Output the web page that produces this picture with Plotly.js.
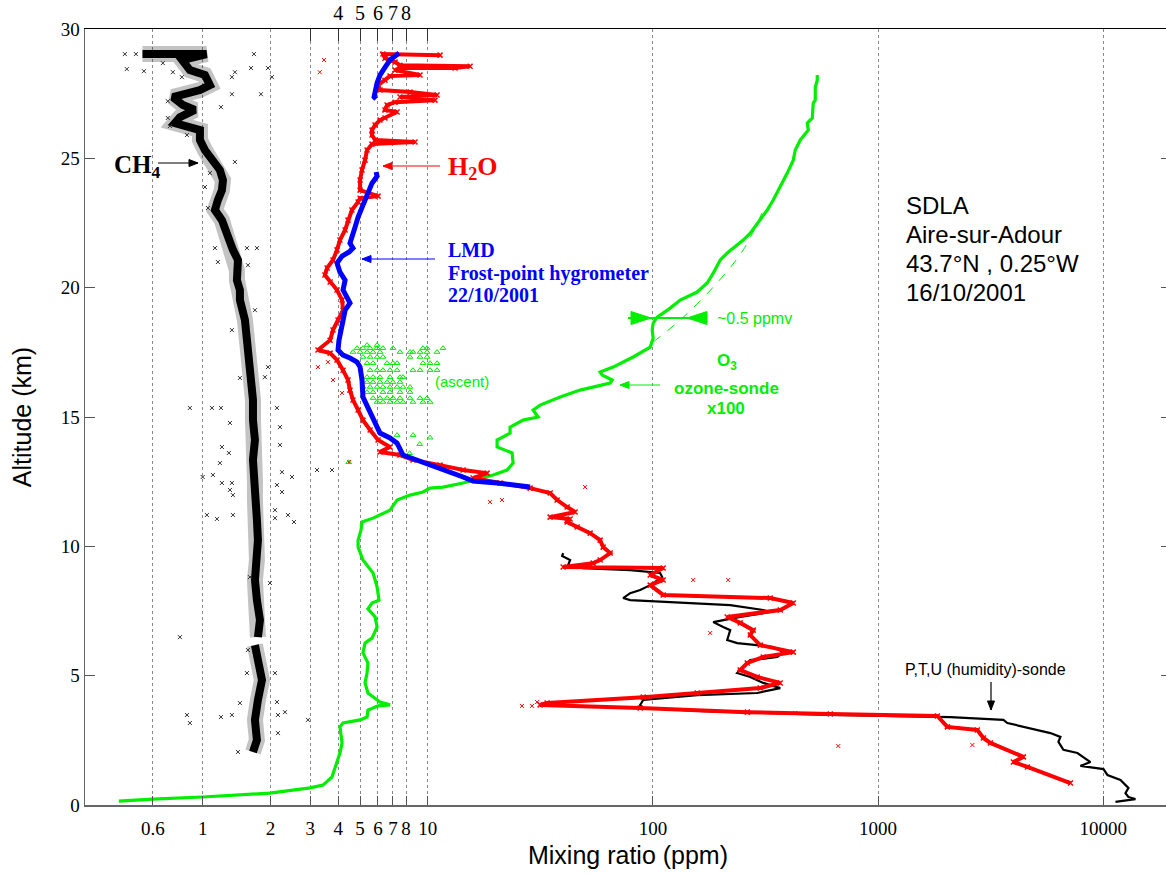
<!DOCTYPE html>
<html>
<head>
<meta charset="utf-8">
<script src="https://cdn.plot.ly/plotly-3.0.1.min.js"></script>
<style>
html,body{margin:0;padding:0;overflow:hidden;background:#fff;}
#chart{width:1171px;height:874px;}
</style>
</head>
<body>
<div id="chart"></div>
<script>
// ---------------- DATA (mixing ratio in ppm, altitude in km) ----------------
// CH4 profile (centre of the dense band)
const ch4_ppm = [0.54,1.04,0.81,0.877,1.023,1.076,0.972,0.737,0.817,0.923,0.792,0.752,0.972,0.972,1.023,1.099,1.192,1.23,1.217,1.168,1.133,1.217,1.255,1.321,1.362,1.434,1.419,1.419,1.463,1.463,1.54,1.572,1.621,1.654,1.672,1.672,1.706,1.672,1.706,1.706,1.741,1.759,1.741,1.706,1.741,1.796,1.759,null,1.706,1.759,1.833,1.759,1.706,1.741,1.672];
const ch4_alt = [29.03,29.03,28.80,28.41,28.22,27.83,27.64,27.37,27.06,26.87,26.59,26.36,26.09,25.71,25.32,24.93,24.55,24.16,23.77,23.39,23.00,22.61,22.23,21.84,21.46,21.07,20.68,20.29,19.91,19.52,18.75,17.97,17.20,16.43,15.66,14.88,14.11,13.34,12.56,11.79,11.02,10.24,9.47,8.70,7.92,7.15,6.49,null,6.18,5.60,4.83,4.06,3.29,2.51,2.05];
// CH4 scattered individual samples
const ch4s_ppm = [0.451,0.505,0.460,0.548,0.665,0.737,0.808,1.348,1.390,1.638,1.689,1.949,2.03,1.814,1.348,1.205,0.700,0.700,0.715,0.851,1.076,1.023,1.055,1.39,1.572,1.741,1.168,1.133,1.588,
  0.877,1.099,1.205,1.321,1.217,1.307,1.192,1.11,1.0,1.217,1.348,1.321,1.362,1.044,1.157,1.362,2.137,2.203,2.203,2.249,2.491,2.137,2.249,2.094,2.391,2.543,2.094,1.949,1.89,1.463,1.706,1.348,1.989,1.621,0.792,0.851,0.877,1.205,1.348,2.159,2.319,1.463,2.137,2.159,1.434,1.588,1.572,2.094,2.935,3.219,3.752];
const ch4s_alt = [29.03,29.03,28.45,28.37,28.68,28.33,28.14,28.14,28.33,28.49,29.03,28.49,28.14,27.48,27.48,26.98,27.21,26.56,26.25,25.9,24.43,23.89,23.08,24.86,21.53,21.53,20.99,21.53,20.87,
  15.35,15.35,15.35,14.77,13.84,13.61,13.22,12.76,12.68,12.45,12.45,12.18,11.98,11.21,11.06,11.21,15.35,14.61,13.92,12.87,12.68,12.37,12.1,11.4,11.21,10.94,11.09,16.93,16.54,16.51,19.13,18.36,8.58,8.81,6.49,3.48,3.17,3.4,3.48,3.48,3.59,3.94,3.98,2.78,2.05,5.99,5.1,5.1,3.29,12.95,12.95];

// H2O (SDLA)
const h2o_ppm = [11.33,6.32,6.45,7.15,7.52,15.4,13.21,7.52,7.15,9.23,6.79,6.45,6.01,6.13,8.34,10.99,7.52,10.76,7.15,6.59,6.45,7.30,6.45,6.13,5.83,5.65,5.65,5.83,8.77,5.65,5.37,5.26,5.10,5.00,5.00,6.01,5.00,4.90,4.60,4.42,4.29,4.07,3.95,3.79,3.57,3.49,3.68,3.95,4.16,4.20,3.99,3.79,3.68,3.25,3.68,3.95,4.20,4.42,4.51,4.65,4.90,5.15,5.54,6.01,6.79,6.13,7.52,8.59,11.33,14.34,18.33,15.88,20.94,28.46,34.93,37.53,41.57,45.10,34.93,42.85,41.57,46.03,52.59,58.25,60.07,64.54,58.25,54.23,39.91,111,97.19,111,97.19,111,331.8,419.9,367.6,213.7,244.1,278.8,270.4,299.5,419.9,308.9,262.3,244.1,290.5,367.6,299.5,157.2,90.47,33.87,31.53,87.72,262.3,613.2,1833,2030,2760,2935,3153,4419,3990,4604,7149];
const h2o_alt = [28.99,29.03,28.87,28.72,28.60,28.56,28.49,28.49,28.41,28.22,28.18,28.02,27.83,27.64,27.56,27.45,27.37,27.25,27.17,27.06,26.87,26.79,26.56,26.48,26.29,26.09,25.90,25.71,25.63,25.55,25.32,24.93,24.55,24.16,23.77,23.54,23.46,23.31,23.00,22.61,22.23,21.84,21.46,21.07,20.76,20.49,20.22,19.91,19.52,19.13,18.75,18.36,17.97,17.59,17.47,17.20,16.81,16.43,16.04,15.66,15.27,14.88,14.50,14.11,13.84,13.65,13.53,13.34,13.14,12.95,12.83,12.64,12.45,12.25,12.06,11.79,11.52,11.33,11.13,11.06,10.94,10.75,10.51,10.24,9.97,9.74,9.47,9.35,9.20,9.16,8.89,8.70,8.50,8.12,8.00,7.81,7.54,7.27,7.04,6.76,6.57,6.18,5.91,5.72,5.49,5.22,4.95,4.72,4.52,4.33,4.17,3.94,3.87,3.75,3.59,3.52,3.44,3.02,2.90,2.59,2.40,1.86,1.66,1.47,0.85];
const h2os_ppm = [3.46,3.31,3.25,3.60,3.79,4.16,4.47,49.96,18.9,21.37,150.9,215.9,179.6,26.2,29.05,30.57,428.6,2623,665.6];
const h2os_alt = [28.8,28.33,16.93,17.12,16.43,15.93,13.26,12.29,11.71,11.79,8.7,8.7,6.65,3.83,3.83,3.98,3.56,2.32,2.28];

// LMD frost-point hygrometer
const lmd_ppm = [7.45,6.79,6.45,6.13,5.95,5.83,5.77,5.89,null,5.89,5.95,5.65,5.37,5.10,4.90,4.75,4.60,4.51,4.65,4.47,4.16,3.95,4.07,4.29,4.20,4.37,4.51,4.29,4.20,4.07,4.03,3.99,4.20,4.51,4.85,5.00,5.10,5.15,5.37,5.54,5.83,6.13,6.79,7.30,7.76,9.52,11.68,14.34,15.88,20.31,28.46];
const lmd_alt = [29.07,28.80,28.52,28.22,27.91,27.64,27.37,27.29,null,24.47,24.31,24.04,23.58,23.12,22.73,22.34,22.03,21.72,21.53,21.38,21.22,20.95,20.60,20.29,19.91,19.64,19.40,19.13,18.75,18.36,17.97,17.59,17.39,17.28,17.12,16.93,16.43,15.77,15.46,15.15,14.80,14.38,14.19,13.99,13.53,13.26,12.95,12.68,12.52,12.45,12.29];

// O3 ozone-sonde (x100)
const o3_ppm = [0.424,0.60,1.0,1.99,2.995,3.42,3.75,3.95,4.07,4.16,4.07,4.20,5.0,5.37,5.42,6.01,6.79,6.13,5.42,5.26,5.37,5.42,5.15,5.26,5.65,5.95,5.83,5.42,5.65,6.07,5.95,5.71,5.15,4.90,4.90,5.05,5.10,5.71,6.79,7.30,8.34,9.52,10.23,11.68,14.34,16.55,19.49,22.49,23.92,23.67,20.31,20.31,23.19,23.19,26.5,30.89,29.35,31.53,38.7,47.47,52.59,64.54,65.88,59.46,58.25,66.56,81.66,97.19,100.2,99.2,100.2,104.4,119.3,132.1,157.2,174.1,185.2,199.0,213.7,251.8,270.4,299.5,321.8,342.1,367.6,394.9,419.9,428.6,451.1,489.6,484.6,510.1,515.2,525.9,525.9,536.8,536.8];
const o3_alt = [0.15,0.23,0.31,0.46,0.66,0.77,1.08,1.62,2.01,2.40,3.02,3.17,3.29,3.40,3.67,3.83,3.87,3.98,4.33,4.72,5.10,5.49,5.88,6.26,6.45,6.88,7.27,7.58,7.81,7.92,8.43,8.97,9.47,9.97,10.24,10.63,10.94,11.09,11.40,11.79,11.98,12.10,12.25,12.29,12.45,12.60,12.76,12.95,13.22,13.61,13.84,14.11,14.38,14.61,14.88,15.00,15.27,15.46,15.77,16.04,16.12,16.31,16.43,16.62,16.74,16.93,17.32,17.70,18.05,18.36,18.63,18.86,19.21,19.52,19.83,20.18,20.56,21.07,21.34,21.84,22.11,22.61,23.00,23.39,23.89,24.43,24.93,25.32,25.71,26.09,26.36,26.56,27.14,27.25,27.75,28.02,28.22];
const o3d_ppm = [100.2,132.1,185.2,251.8,308.9];
const o3d_alt = [17.9,18.75,20.02,21.46,23.0];

// O3 ascent samples
const asc_rows_alt = [17.78,17.66,17.51,17.32,17.08,16.81,16.54,16.35,16.16,15.96,15.73,15.58,14.3,14.2,13.95,13.6,13.25];
const asc_rows_ppm = [
  [5.37,5.95],
  [4.85,5.15,5.54,5.95,6.32,7.0,9.52,9.92,11.68],
  [4.65,5.0,5.37,5.71,6.13,7.52,8.33,8.59,9.23,9.92,10.99],
  [5.15,5.54,5.95,6.32,8.33,9.23,9.92],
  [5.37,5.71,6.59,7.0,7.3,9.52,10.23,10.99],
  [5.54,5.95,6.32,6.79,7.3,8.59,9.23,10.23,10.99],
  [5.37,5.71,6.13,6.79,7.52,7.76],
  [5.37,5.71,6.13,6.59,7.0,7.52],
  [5.15,5.54,5.95,6.32,6.79,7.3,7.76,8.33],
  [5.37,5.71,6.32,6.79,7.52,8.33],
  [5.71,6.13,6.59,7.0,7.52,8.33,9.23,9.92],
  [5.95,6.32,6.79,7.3,7.76,8.59,9.52,10.23],
  [7.3,8.6],
  [10.23],
  [9.2],
  [8.3],
  [4.45]
];

// P,T,U humidity sonde
const ptu_ppm = [39.91,39.50,42.85,42.0,48.96,79.18,107.6,109.9,97.19,87.72,79.18,73.74,79.18,111.0,220.4,308.9,331.8,244.1,185.2,205.1,220.4,213.7,236.7,342.1,379.1,356.5,270.4,236.7,270.4,308.9,367.6,290.5,157.2,90.47,87.72,89.54,167.1,308.9,613.2,2094,3601,3752,5826,6454,6323,6654,7680,8772,7919,10021,10440,11925,12940,12550,12940,13903,11330];
const ptu_alt = [9.74,9.63,9.47,9.28,9.16,9.08,8.97,8.81,8.50,8.31,8.19,8.00,7.92,7.85,7.73,7.54,7.46,7.27,7.07,6.88,6.76,6.38,6.26,6.11,5.91,5.72,5.60,5.10,4.95,4.72,4.52,4.33,4.25,4.06,3.87,3.75,3.63,3.56,3.48,3.40,3.29,3.17,2.78,2.63,2.44,2.13,2.01,1.66,1.51,1.39,1.16,0.97,0.66,0.46,0.31,0.23,0.12];

// Axis ticks
const x_tickvals = [0.6,1,2,3,4,5,6,7,8,10,100,1000,10000];
const x_ticktext = ['0.6','1','2','3','4','5','6','7','8','10','100','1000','10000'];
const xtop_tickvals = [4,5,6,7,8];
const xtop_ticktext = ['4','5','6','7','8'];
const xtop_extra_ticks = [3,10];
const y_tickvals = [0,5,10,15,20,25,30];

// ---------------- BUILD ----------------
const asc_ppm = [], asc_alt = [];
asc_rows_ppm.forEach((row,i)=>row.forEach(v=>{asc_ppm.push(v);asc_alt.push(asc_rows_alt[i]);}));

const GREEN = '#00ee00', RED = '#ff0000', BLUE = '#0000ff';
const traces = [
  {x:ch4_ppm, y:ch4_alt, mode:'lines', line:{color:'rgba(40,40,40,0.28)', width:16}, hoverinfo:'skip'},
  {x:ch4_ppm, y:ch4_alt, mode:'lines', line:{color:'#000', width:8}, hoverinfo:'skip'},
  {x:ch4s_ppm, y:ch4s_alt, mode:'markers', marker:{symbol:'x-thin-open', size:4, color:'#333', line:{width:1, color:'#333'}}, hoverinfo:'skip'},
  {x:o3_ppm, y:o3_alt, mode:'lines', line:{color:GREEN, width:3.2}, hoverinfo:'skip'},
  {x:o3d_ppm, y:o3d_alt, mode:'lines', line:{color:GREEN, width:1, dash:'dash', shape:'spline'}, hoverinfo:'skip'},
  {x:ptu_ppm, y:ptu_alt, mode:'lines', line:{color:'#000', width:2.2}, hoverinfo:'skip'},
  {x:h2o_ppm, y:h2o_alt, mode:'lines+markers', line:{color:RED, width:4}, marker:{symbol:'x-thin-open', size:5, color:RED, line:{width:1.5, color:RED}}, hoverinfo:'skip'},
  {x:h2os_ppm, y:h2os_alt, mode:'markers', marker:{symbol:'x-thin-open', size:4, color:RED, line:{width:1, color:RED}}, hoverinfo:'skip'},
  {x:asc_ppm, y:asc_alt, mode:'markers', marker:{symbol:'triangle-up-open', size:5, color:GREEN, line:{width:1, color:GREEN}}, hoverinfo:'skip'},
  {x:lmd_ppm, y:lmd_alt, mode:'lines', line:{color:BLUE, width:5}, hoverinfo:'skip'},
  {x:[], y:[], xaxis:'x2', mode:'lines', hoverinfo:'skip'},
  {x:[], y:[], xaxis:'x3', mode:'lines', hoverinfo:'skip'}
];

// pixel helpers for annotation placement (plot area: x 85..1171, y 29..805)
const X = px => (px-85)/1086;
const Y = py => (805-py)/776;
const serif = 'Liberation Serif, Times New Roman, serif';
const sans = 'Liberation Sans, Arial, sans-serif';
function txt(t, px, py, size, color, fam, xa){
  return {text:t, x:X(px), y:Y(py), xref:'paper', yref:'paper', showarrow:false, xanchor:xa||'left', yanchor:'middle', font:{size:size, color:color, family:fam}};
}
// arrows drawn as shapes: a line plus a filled triangular head
const shapes = [];
function arrow(tx, ty, sx, sy, color, w, hl, hw){
  shapes.push({type:'line', xref:'paper', yref:'paper', x0:X(sx), y0:Y(sy), x1:X(tx), y1:Y(ty), line:{color:color, width:w}});
  const dx = sx-tx, dy = sy-ty, L = Math.hypot(dx,dy), ux = dx/L, uy = dy/L;
  const bx = tx+ux*hl, by = ty+uy*hl, px = -uy*hw/2, py = ux*hw/2;
  const p = [[tx,ty],[bx+px,by+py],[bx-px,by-py]];
  shapes.push({type:'path', xref:'paper', yref:'paper',
    path:'M'+p.map(q=>X(q[0])+','+Y(q[1])).join(' L')+' Z',
    fillcolor:color, line:{color:color, width:1}});
}
arrow(198,163,158,163,'#000',1.2,9,7);
arrow(383,166,440,166,RED,1.2,9,7);
arrow(362,259,435,259,BLUE,1.2,9,7);
shapes.push({type:'line', xref:'paper', yref:'paper', x0:X(628), y0:Y(318), x1:X(707), y1:Y(318), line:{color:GREEN, width:2}});
arrow(651,318,628,318,GREEN,2,20,13);
arrow(687,318,707,318,GREEN,2,20,13);
arrow(620,385,660,385,GREEN,1.2,9,7);
arrow(991,710,991,682,'#000',1.2,9,7);

const annotations = [
  txt('<b>CH<sub>4</sub></b>', 112, 166, 25, '#000', serif),
  txt('<b>H<sub>2</sub>O</b>', 446, 168, 26, RED, serif),
  txt('<b>LMD</b>', 446, 250, 20, BLUE, serif),
  txt('<b>Frost-point hygrometer</b>', 446, 273, 20, BLUE, serif),
  txt('<b>22/10/2001</b>', 446, 295, 20, BLUE, serif),
  txt('(ascent)', 433, 381, 15, GREEN, sans),
  txt('~0.5 ppmv', 715, 318, 16, GREEN, sans),
  txt('<b>O<sub>3</sub></b>', 727, 362, 17, GREEN, sans, 'center'),
  txt('<b>ozone-sonde</b>', 726, 388, 17, GREEN, sans, 'center'),
  txt('<b>x100</b>', 726, 408, 17, GREEN, sans, 'center'),
  txt('SDLA', 904, 206, 24, '#000', sans),
  txt('Aire-sur-Adour', 904, 235, 24, '#000', sans),
  txt('43.7°N , 0.25°W', 904, 263, 24, '#000', sans),
  txt('16/10/2001', 904, 292, 24, '#000', sans),
  txt('P,T,U (humidity)-sonde', 985, 669, 16, '#000', sans, 'center')
];

const xr = [Math.log10(0.3), Math.log10(20000)];
const layout = {
  width:1171, height:874,
  margin:{l:85, r:0, t:29, b:69, pad:0},
  paper_bgcolor:'#fff', plot_bgcolor:'#fff',
  showlegend:false,
  font:{family:serif, color:'#000'},
  xaxis:{type:'log', range:xr, tickmode:'array', tickvals:x_tickvals, ticktext:x_ticktext,
    ticks:'inside', ticklen:9, tickwidth:1, tickcolor:'#555',
    showline:true, linecolor:'#666', linewidth:1.5,
    showgrid:true, gridcolor:'#888', griddash:'dot', gridwidth:1, zeroline:false,
    tickfont:{size:19, family:serif, color:'#000'}, ticklabelstandoff:6,
    title:{text:'Mixing ratio (ppm)', font:{family:sans, size:25, color:'#000'}, standoff:8},
    fixedrange:true},
  xaxis2:{type:'log', overlaying:'x', side:'top', anchor:'y', range:xr, tickmode:'array',
    tickvals:xtop_tickvals, ticktext:xtop_ticktext, ticks:'inside', ticklen:12, tickcolor:'#333',
    showline:true, linecolor:'#000', linewidth:1.5, showgrid:false, zeroline:false,
    tickfont:{size:20, family:serif, color:'#000'}, fixedrange:true},
  xaxis3:{type:'log', overlaying:'x', side:'top', anchor:'y', range:xr, tickmode:'array',
    tickvals:xtop_extra_ticks, showticklabels:false, ticks:'inside', ticklen:12, tickcolor:'#333',
    showline:false, showgrid:false, zeroline:false, fixedrange:true},
  yaxis:{range:[0,30], tickmode:'array', tickvals:y_tickvals, ticks:'inside', ticklen:10, tickcolor:'#555',
    showline:true, linecolor:'#666', linewidth:1.5, mirror:'ticks', showgrid:false, zeroline:false,
    tickfont:{size:19, family:serif, color:'#000'},
    title:{text:'Altitude (km)', font:{family:sans, size:25, color:'#000'}, standoff:22},
    fixedrange:true},
  annotations:annotations,
  shapes:shapes
};
Plotly.newPlot('chart', traces, layout, {staticPlot:true, displayModeBar:false});
</script>
</body>
</html>
